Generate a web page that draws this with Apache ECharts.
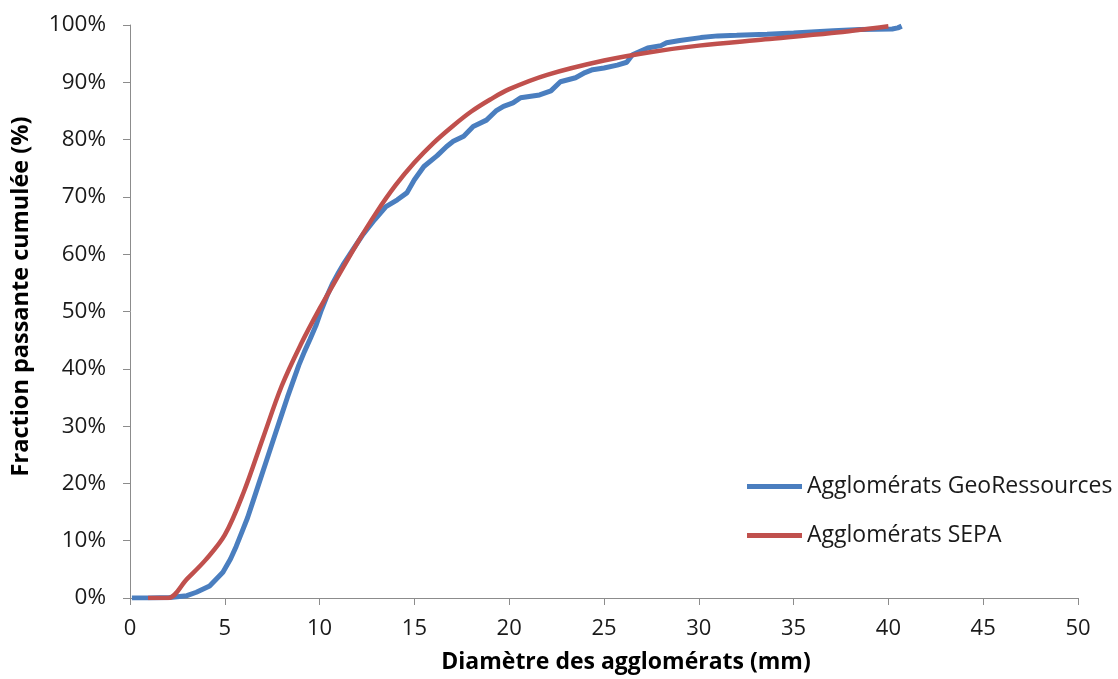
<!DOCTYPE html>
<html>
<head>
<meta charset="utf-8">
<script src="https://cdn.jsdelivr.net/npm/echarts@6/dist/echarts.min.js"></script>
<style>html,body{margin:0;padding:0;background:#fff}#c{width:1118px;height:679px}</style>
</head>
<body>
<div id="c"></div>
<script>
const xTicks = [0,5,10,15,20,25,30,35,40,45,50];
const yTicks = [0,10,20,30,40,50,60,70,80,90,100];
const seriesNames = ["Agglomérats GeoRessources", "Agglomérats SEPA"];
const geoRessources = [
  [0.1,0],[1,0],[2.1,0.1],[3,0.4],[3.5,1],[4.2,2.1],[4.9,4.5],[5.3,6.8],[5.6,9],[5.9,11.5],
  [6.2,14],[6.5,17],[6.8,20],[7.1,23],[7.4,26],[7.7,29],[8,32],[8.3,35],[8.6,37.8],[8.9,40.6],
  [9.2,43],[9.5,45.2],[9.8,47.5],[10.1,50.3],[10.4,52.8],[10.7,55],[11,56.8],[11.3,58.5],[11.8,61],[12.3,63.5],
  [12.9,66],[13.5,68.3],[14.1,69.5],[14.6,70.7],[15,73],[15.5,75.3],[16.2,77.2],[16.7,78.8],[17.05,79.7],[17.6,80.6],
  [18.1,82.3],[18.8,83.4],[19.3,85],[19.7,85.8],[20.2,86.4],[20.6,87.3],[21.6,87.8],[22.2,88.5],[22.7,90.1],[23.5,90.8],
  [24,91.7],[24.4,92.2],[25,92.5],[25.7,93],[26.2,93.5],[26.5,94.8],[27.3,96],[28,96.4],[28.3,96.9],[29,97.3],
  [30.1,97.8],[31,98.1],[32,98.2],[33.6,98.4],[35,98.6],[37.1,99],[38.5,99.2],[40.2,99.3],[40.5,99.5],[40.7,99.8]
];
const sepa = [
  [0.95,0],[2,0],[3,3.3],[4,6.7],[5,11],[6,18.5],[7,27.8],[8,37],[9,44.2],[10,50.5],
  [11,56.3],[12,62],[13,67.3],[14,72],[15,76],[16,79.4],[17,82.3],[18,84.9],[19,87],[20,88.8],
  [22,91.3],[25,93.8],[27.5,95.3],[30,96.4],[33.5,97.5],[37,98.6],[40,99.8]
];

const chart = echarts.init(document.getElementById('c'));
const font = 'Open Sans';
chart.setOption({
  animation: false,
  grid: {left: 130, right: 40, top: 25, bottom: 80},
  legend: {
    orient: 'vertical', left: 742, top: 470, itemGap: 26,
    itemWidth: 55, itemHeight: 5, icon: 'rect',
    textStyle: {fontFamily: font, fontSize: 23, color: '#1a1a1a'},
    data: seriesNames
  },
  xAxis: {
    type: 'value', min: xTicks[0], max: xTicks[xTicks.length-1], interval: 5,
    name: 'Diamètre des agglomérats (mm)', nameLocation: 'middle', nameGap: 53,
    nameTextStyle: {fontFamily: font, fontSize: 23, fontWeight: 'bold', color: '#000', padding: [0,0,0,44]},
    axisLine: {lineStyle: {color: '#8c8c8c', width: 1}},
    axisTick: {length: 7, lineStyle: {color: '#8c8c8c'}},
    axisLabel: {fontFamily: font, fontSize: 22, color: '#1a1a1a', margin: 20},
    splitLine: {show: false}
  },
  yAxis: {
    type: 'value', min: yTicks[0], max: yTicks[yTicks.length-1], interval: 10,
    name: 'Fraction passante cumulée (%)', nameLocation: 'middle', nameGap: 97,
    nameTextStyle: {fontFamily: font, fontSize: 23.5, fontWeight: 'bold', color: '#000', padding: [0,0,0,30]},
    axisLine: {show: true, lineStyle: {color: '#8c8c8c', width: 1}},
    axisTick: {show: true, length: 7, lineStyle: {color: '#8c8c8c'}},
    axisLabel: {fontFamily: font, fontSize: 22.5, color: '#1a1a1a', margin: 24, formatter: '{value}%'},
    splitLine: {show: false}
  },
  series: [
    {name: seriesNames[0], type: 'line', data: geoRessources, showSymbol: false, smooth: false,
     lineStyle: {color: '#4a7ebf', width: 5}, itemStyle: {color: '#4a7ebf'}},
    {name: seriesNames[1], type: 'line', data: sepa, showSymbol: false, smooth: 0.35,
     lineStyle: {color: '#c0504d', width: 4.5}, itemStyle: {color: '#c0504d'}}
  ]
});
</script>
</body>
</html>
